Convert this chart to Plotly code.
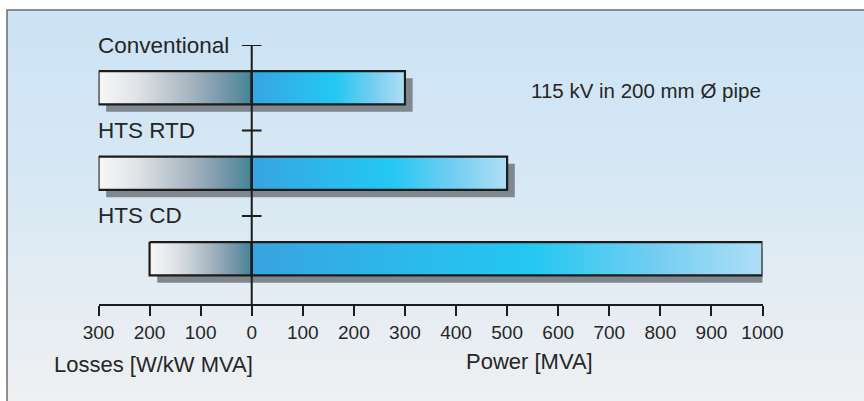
import base64
import plotly.graph_objects as go

# ---- data ----
categories = ["Conventional", "HTS RTD", "HTS CD"]
losses = [300, 300, 200]          # W/kW MVA (drawn to the left)
power = [300, 500, 1000]          # MVA (drawn to the right)
tick_values = [-300, -200, -100, 0, 100, 200, 300, 400, 500, 600, 700, 800, 900, 1000]
tick_labels = ["300", "200", "100", "0", "100", "200", "300", "400", "500",
               "600", "700", "800", "900", "1000"]
note_text = "115 kV in 200 mm Ø pipe"
losses_title = "Losses [W/kW MVA]"
power_title = "Power [MVA]"

FONT = "Liberation Sans, Arial, Helvetica, sans-serif"
INK = "#1c1c1c"
TXT = "#262626"

W, H = 864, 401
HALF = 0.195      # half bar thickness (category units)
SH_DX = 15        # shadow offset (x units)
SH_DY = 0.085     # shadow offset (category units)

loss_scale = [[0, "#f7f7f7"], [0.25, "#e0e3e6"], [0.6, "#a6b4c0"], [0.85, "#6e93a6"], [1, "#428496"]]
power_scale = [[0, "#38a4e0"], [0.3, "#2cb8ec"], [0.55, "#24c8f2"], [0.78, "#70cdf2"], [1, "#b0def6"]]

fig = go.Figure()


def rect(x0, x1, yc):
    return [x0, x1, x1, x0, x0], [yc - HALF, yc - HALF, yc + HALF, yc + HALF, yc - HALF]


# shadows
for i, cat in enumerate(categories):
    yc = i + 0.5
    xs, ys = rect(-losses[i] + SH_DX, power[i] + SH_DX, yc + SH_DY)
    fig.add_trace(go.Scatter(x=xs, y=ys, mode="lines", fill="toself",
                             fillcolor="#7f878f", line=dict(width=0),
                             hoverinfo="skip", showlegend=False))

# bars
for i, cat in enumerate(categories):
    yc = i + 0.5
    xs, ys = rect(-losses[i], 0, yc)
    fig.add_trace(go.Scatter(x=xs, y=ys, mode="lines", fill="toself",
                             fillgradient=dict(type="horizontal", colorscale=loss_scale,
                                               start=-losses[i], stop=0),
                             line=dict(color=INK, width=2.2),
                             name=cat + " losses", showlegend=False))
    xs, ys = rect(0, power[i], yc)
    fig.add_trace(go.Scatter(x=xs, y=ys, mode="lines", fill="toself",
                             fillgradient=dict(type="horizontal", colorscale=power_scale,
                                               start=0, stop=power[i]),
                             line=dict(color=INK, width=2.2),
                             name=cat + " power", showlegend=False))

YMAX = 3.03
# vertical axis line and its ticks
fig.add_trace(go.Scatter(x=[0, 0], y=[0, YMAX], mode="lines",
                         line=dict(color=INK, width=2), hoverinfo="skip", showlegend=False))
fig.add_trace(go.Scatter(x=[0] * len(categories), y=list(range(len(categories))),
                         mode="markers",
                         marker=dict(symbol="line-ew", size=14, line=dict(color=INK, width=2)),
                         hoverinfo="skip", showlegend=False))

# category labels
for i, cat in enumerate(categories):
    fig.add_annotation(x=-300, y=i, xref="x", yref="y", text=cat, showarrow=False,
                       xanchor="left", yanchor="middle", xshift=-3,
                       font=dict(family=FONT, size=22.5, color=TXT))

fig.add_annotation(x=547, y=0.53, xref="x", yref="y", text=note_text, showarrow=False,
                   xanchor="left", yanchor="middle", xshift=-2,
                   font=dict(family=FONT, size=20.5, color=TXT))
fig.add_annotation(x=0, y=1 - 364 / H, xref="x", yref="paper", text=losses_title,
                   showarrow=False, xanchor="right", yanchor="middle", xshift=3,
                   font=dict(family=FONT, size=22, color=TXT))
fig.add_annotation(x=420, y=1 - 361 / H, xref="x", yref="paper", text=power_title,
                   showarrow=False, xanchor="left", yanchor="middle", xshift=-2,
                   font=dict(family=FONT, size=22, color=TXT))

# background panel (gradient + frame) as an inline svg image
svg = f'''<svg xmlns="http://www.w3.org/2000/svg" width="{W}" height="{H}">
<defs><linearGradient id="g" x1="0" y1="0" x2="0" y2="1">
<stop offset="0" stop-color="#cbe3f6"/><stop offset="0.45" stop-color="#d8e8f4"/>
<stop offset="0.75" stop-color="#e6edf3"/><stop offset="1" stop-color="#eff0f1"/>
</linearGradient></defs>
<rect x="0" y="0" width="{W}" height="{H}" fill="#ffffff"/>
<rect x="7" y="10" width="{W}" height="{H}" fill="url(#g)" stroke="#6e6a6a" stroke-width="1.5"/>
</svg>'''
src = "data:image/svg+xml;base64," + base64.b64encode(svg.encode()).decode()
fig.add_layout_image(dict(source=src, xref="paper", yref="paper", x=0, y=1,
                          sizex=1, sizey=1, xanchor="left", yanchor="top",
                          sizing="stretch", layer="below"))

fig.update_layout(
    template="none",
    width=W, height=H,
    margin=dict(l=0, r=0, t=0, b=0, pad=0, autoexpand=False),
    paper_bgcolor="white", plot_bgcolor="rgba(0,0,0,0)",
    font=dict(family=FONT, color=TXT),
    showlegend=False,
    xaxis=dict(domain=[98.5 / W, 762.5 / W], range=[-300, 1000], automargin=False,
               tickvals=tick_values, ticktext=tick_labels,
               ticks="outside", ticklen=10, tickwidth=2, tickcolor=INK,
               showline=True, linewidth=2, linecolor=INK,
               showgrid=False, zeroline=False,
               tickfont=dict(family=FONT, size=19, color=TXT)),
    yaxis=dict(domain=[1 - 304 / H, 1 - 45 / H], range=[YMAX, 0], automargin=False,
               showticklabels=False, showline=False, showgrid=False,
               zeroline=False, ticks=""),
)

fig.write_html("out.html", config={"displayModeBar": False, "staticPlot": True},
               post_script="document.body.style.margin='0px';document.body.style.overflow='hidden';")
